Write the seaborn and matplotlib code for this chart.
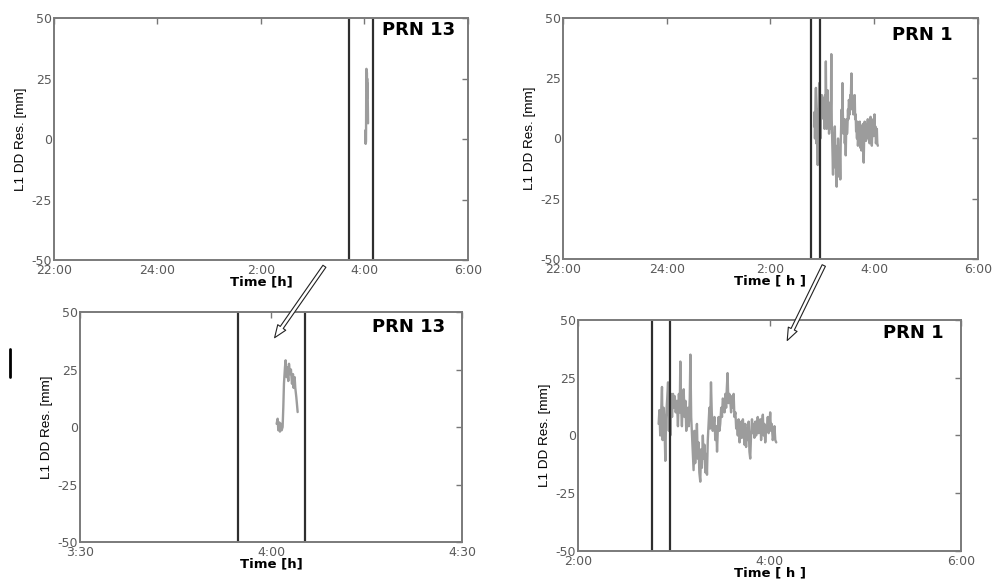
import numpy as np
import pandas as pd
import seaborn as sns
import matplotlib.pyplot as plt
from matplotlib.patches import FancyArrowPatch
from matplotlib.lines import Line2D

# PRN 13 L1 double-difference residuals, minutes after 4:00
prn13_min = [0.89, 1.05, 1.15, 1.31, 1.41, 1.57, 1.68, 1.83, 1.94, 2.04, 2.20, 2.30, 2.46,
             2.57, 2.72, 2.83, 2.98, 3.14, 3.30, 3.46, 3.56, 3.72, 3.82, 3.98, 4.08, 4.19]
prn13_res = [1.4, 3.6, -1.4, 2.0, -2.0, 1.4, -1.4, 0.0, 8.7, 18.8, 26.0, 29.0, 21.7,
             26.0, 20.0, 27.5, 23.0, 25.0, 18.8, 23.0, 17.0, 21.7, 17.0, 13.0, 10.0, 6.5]

# PRN 1 L1 double-difference residuals, minutes after 2:00
prn1_min = [50.5, 51.0, 51.5, 52.0, 52.6, 53.0, 53.6, 54.2, 54.7, 55.2, 55.8, 56.4, 56.9,
            57.4, 57.8, 58.3, 58.9, 59.5, 60.0, 60.6, 61.2, 62.0, 62.6, 63.2, 63.7, 64.1,
            64.6, 65.1, 65.6, 66.2, 66.7, 67.3, 67.8, 68.3, 68.8, 69.4, 70.0, 70.4, 70.9,
            71.4, 71.9, 72.4, 72.9, 73.4, 73.9, 74.5, 75.0, 75.5, 76.0, 76.6, 77.1, 77.6,
            78.2, 78.7, 79.2, 79.8, 80.3, 80.8, 81.3, 81.8, 82.3, 82.8, 83.3, 83.8, 84.4,
            85.0, 85.5, 86.0, 86.6, 87.1, 87.6, 88.1, 88.6, 89.1, 89.7, 90.2, 90.7, 91.2,
            91.8, 92.3, 92.8, 93.2, 93.7, 94.2, 94.8, 95.4, 95.9, 96.4, 97.0, 97.5, 98.0,
            98.6, 99.1, 99.6, 100.1, 100.6, 101.2, 101.7, 102.2, 102.7, 103.3, 103.8, 104.3,
            104.8, 105.3, 105.8, 106.4, 106.9, 107.4, 107.9, 108.4, 109.0, 109.5, 110.0,
            110.5, 111.1, 111.6, 112.1, 112.6, 113.1, 113.7, 114.2, 114.7, 115.2, 115.8,
            116.3, 116.8, 117.3, 117.9, 118.4, 118.9, 119.4, 120.0, 120.4, 120.9, 121.4,
            122.0, 122.6, 123.1, 123.6, 124.2]
prn1_res = [5, 11, 0, 8, 21, -2, 12, 3, -11, 8, 15, 23, 2,
            14, 0, 18, 8, 18, 12, 17, 10, 15, 4, 18, 10, 32,
            12, 4, 16, 20, 8, 15, 2, 7, 12, 4, 16, 35, 8,
            0, -8, -15, 2, -12, -5, 5, -10, -3, -16, -20, -6, -14,
            0, -10, -4, -16, -8, -17, -2, 5, 12, 3, 23, 10, 2,
            5, 8, -2, 4, -7, 3, 8, 2, 5, 12, 8, 16, 15,
            10, 18, 12, 20, 27, 14, 18, 15, 10, 17, 12, 18, 8,
            10, 3, 5, 0, 7, -3, 0, 6, -1, 7, 2, -4,
            5, -5, 3, -2, 6, -7, -10, 0, 7, 1, 5,
            -1, 6, 0, 3, 8, 1, 5, 7, -2, 4, 9,
            0, 5, -3, 4, 3, 8, 1, 5, 10, 2, 5,
            -2, 0, 4, -2, -3]

# vertical marker times (hours, 24 = midnight)
prn13_marks_day = [27.70, 28.17]
prn13_marks_zoom = [27.915, 28.088]
prn1_marks = [26.775, 26.965]

day_ticks = [22, 24, 26, 28, 30]
day_labels = ['22:00', '24:00', '2:00', '4:00', '6:00']
zoom13_ticks = [27.5, 28.0, 28.5]
zoom13_labels = ['3:30', '4:00', '4:30']
zoom1_ticks = [26, 28, 30]
zoom1_labels = ['2:00', '4:00', '6:00']
res_ticks = [-50, -25, 0, 25, 50]

df13 = pd.DataFrame({'t': 28 + np.array(prn13_min) / 60, 'res': prn13_res})
df1 = pd.DataFrame({'t': 26 + np.array(prn1_min) / 60, 'res': prn1_res})

sns.set_theme(style='white')
plt.rcParams['font.family'] = ['DejaVu Sans']
plt.rcParams['axes.unicode_minus'] = False

fig = plt.figure(figsize=(9.92, 5.79), dpi=100)
fig.patch.set_facecolor('white')


def draw_panel(rect, df, marks, xlim, ticks, labels, prn, xlabel, prn_xy):
    ax = fig.add_axes(rect)
    sns.lineplot(data=df, x='t', y='res', ax=ax, color='#9c9c9c', lw=1.7,
                 estimator=None, sort=False, legend=False)
    for m in marks:
        ax.axvline(m, color='#2e2e2e', lw=1.6)
    ax.set_xlim(xlim)
    ax.set_ylim(-50, 50)
    ax.set_xticks(ticks)
    ax.set_xticklabels(labels)
    ax.set_yticks(res_ticks)
    ax.tick_params(direction='in', top=True, right=True, length=4, width=1,
                   color='#777777', labelcolor='#5a5a5a', labelsize=9, pad=1.5)
    ax.tick_params(axis='x', pad=3)
    for sp in ax.spines.values():
        sp.set_color('#7a7a7a')
        sp.set_linewidth(1.4)
    ax.set_xlabel(xlabel, fontsize=9.5, fontweight='bold', color='black', labelpad=-1.5)
    ax.set_ylabel('L1 DD Res. [mm]', fontsize=9.7, color='black', labelpad=3,
                  family=['Liberation Sans', 'DejaVu Sans'])
    ax.text(prn_xy[0], prn_xy[1], prn, transform=ax.transAxes, ha='right', va='center',
            fontsize=13, fontweight='bold', color='black')
    return ax


draw_panel([0.0544, 0.5509, 0.4173, 0.418], df13, prn13_marks_day, (22, 30),
           day_ticks, day_labels, 'PRN 13', 'Time [h]', (0.969, 0.95))
draw_panel([0.5675, 0.5527, 0.4183, 0.4162], df1, prn1_marks, (22, 30),
           day_ticks, day_labels, 'PRN 1', 'Time [ h ]', (0.94, 0.93))
draw_panel([0.0806, 0.0639, 0.3851, 0.3972], df13, prn13_marks_zoom, (27.5, 28.5),
           zoom13_ticks, zoom13_labels, 'PRN 13', 'Time [h]', (0.955, 0.935))
draw_panel([0.5827, 0.0484, 0.3861, 0.399], df1, prn1_marks, (26, 30),
           zoom1_ticks, zoom1_labels, 'PRN 1', 'Time [ h ]', (0.955, 0.944))


def px(x, y):
    return (x / 992, 1 - y / 579)


style = 'simple,head_width=7,head_length=9,tail_width=2.6'
for start, end in [((326, 264), (273, 340)), ((825, 263), (786, 343))]:
    arr = FancyArrowPatch(px(*start), px(*end), transform=fig.transFigure,
                          arrowstyle=style, fc='white', ec='#222222', lw=0.8,
                          mutation_scale=1)
    fig.add_artist(arr)

fig.add_artist(Line2D([10 / 992, 10 / 992], [1 - 349 / 579, 1 - 377 / 579],
                      transform=fig.transFigure, color='black', lw=2))

fig.savefig('out.png', dpi=100)
